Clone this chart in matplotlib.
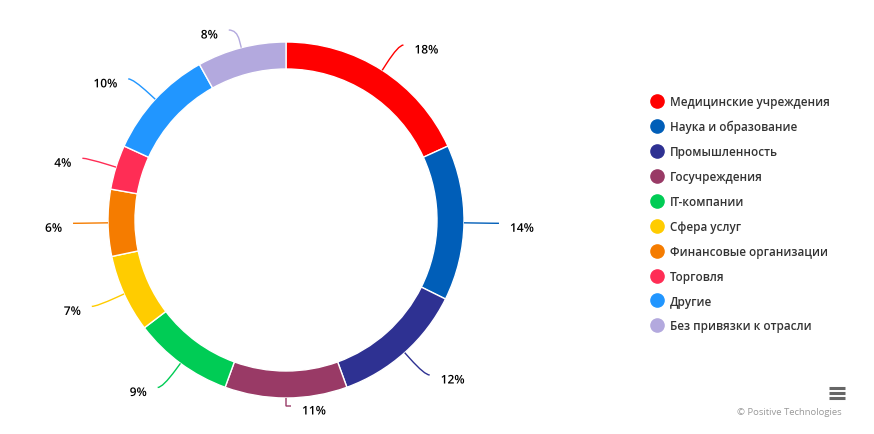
import numpy as np
import matplotlib
matplotlib.use("Agg")
from matplotlib import pyplot as plt
from matplotlib.path import Path
from matplotlib.patches import PathPatch
from matplotlib.lines import Line2D
import matplotlib.patheffects as pe

# data
categories = ["Медицинские учреждения", "Наука и образование", "Промышленность",
              "Госучреждения", "IT-компании", "Сфера услуг",
              "Финансовые организации", "Торговля", "Другие",
              "Без привязки к отрасли"]
shares = [18, 14, 12, 11, 9, 7, 6, 4, 10, 8]
colors = ["#FF0000", "#005EB8", "#2E3192", "#993A66", "#00CC55", "#FFCC00",
          "#F57C00", "#FF2D55", "#2196FF", "#B3A9DE"]

W, H = 874, 435
fig = plt.figure(figsize=(W / 100, H / 100), dpi=100)
ax = fig.add_axes([0, 0, 1, 1])

# pixel geometry (y measured from top, converted below)
cx, cy = 286, 221
r = 178
ring = 27

wedges, _ = ax.pie(shares, colors=colors, radius=r, center=(cx, H - cy),
                   startangle=90, counterclock=False,
                   wedgeprops=dict(width=ring, edgecolor="white", linewidth=1))
ax.set_xlim(0, W)
ax.set_ylim(0, H)
ax.set_aspect("equal")
ax.axis("off")

font = "Open Sans"
total = sum(shares)
start = 0
for val, col in zip(shares, colors):
    mid = np.deg2rad((start + val / 2) / total * 360)
    start += val
    s, c = np.sin(mid), -np.cos(mid)   # c: downward component
    side = 1 if s > -1e-9 else -1
    A = np.array([cx + r * s, cy + r * c])
    B = np.array([cx + (r + 8) * s, cy + (r + 8) * c])
    Cy = min(max(cy + (r + 30) * c, 31), 407)
    # point on the radial line at the label height
    R = (Cy - cy) / c if abs(c) > 1e-6 else r + 30
    R = max(R, r + 8)
    P = np.array([cx + R * s, Cy])
    Cx = cx + (r + 30) * s + side * 5
    if side * (Cx - P[0]) < 4:
        Cx = P[0] + side * 4
    C = np.array([Cx, Cy])
    verts = [A, B, P, C]
    verts = [(p[0], H - p[1]) for p in verts]
    codes = [Path.MOVETO, Path.LINETO, Path.CURVE3, Path.CURVE3]
    ax.add_patch(PathPatch(Path(verts, codes), fill=False, edgecolor=col, lw=1))
    t = ax.text(Cx + side * 11, H - (Cy + 5), f"{val}%",
                ha="left" if side > 0 else "right", va="center",
                fontsize=8.6, family=font, weight="semibold", color="#000000")
    t.set_path_effects([pe.withStroke(linewidth=2, foreground="white")])

# legend
handles = [Line2D([], [], marker="o", ls="", markersize=9.5,
                  markerfacecolor=col, markeredgecolor=col) for col in colors]
leg = fig.legend(handles, categories, loc="upper left",
                 bbox_to_anchor=(650 / W, 1 - 96 / H), frameon=False,
                 borderpad=0, borderaxespad=0,
                 labelspacing=1.02, handletextpad=0.5, handlelength=1.2,
                 prop=dict(family=font, size=8.4, weight="semibold"))
for txt in leg.get_texts():
    txt.set_color("#333333")

# credits and menu icon
fig.text(842 / W, 1 - 413 / H, "© Positive Technologies", ha="right",
         va="center", fontsize=6.8, family=font, color="#999999")
for yy in (389, 394, 399):
    fig.add_artist(Line2D([829 / W, 845 / W], [1 - yy / H, 1 - yy / H],
                          color="#666666", lw=2.2, solid_capstyle="butt"))

fig.savefig("out.png", dpi=100)
